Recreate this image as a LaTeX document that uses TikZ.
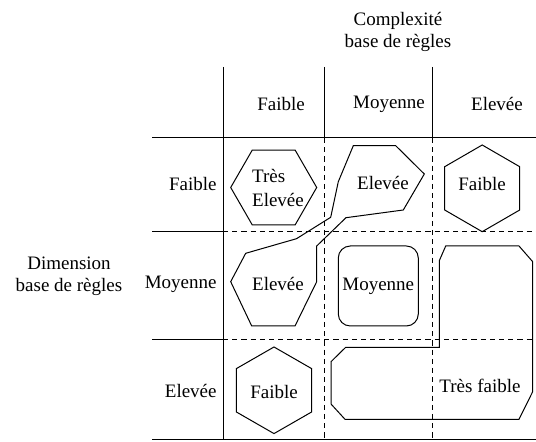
\documentclass[tikz,border=0pt]{standalone}
\usepackage{fontspec}
\setmainfont{Liberation Serif}
\usetikzlibrary{shapes.geometric}
\tikzstyle{solidline} = [line width=0.5pt, draw=black]
\tikzstyle{dashline} = [line width=0.5pt, draw=black, dash pattern=on 2.6pt off 2pt]
\tikzstyle{zone} = [line width=0.5pt, draw=black, line join=miter]
\tikzstyle{txt} = [inner sep=0pt, align=center, font=\fontsize{9.5}{11}\selectfont]
\tikzstyle{cellbox} = [rectangle, rounded corners=6pt, inner sep=1pt, minimum width=40pt, minimum height=40pt, text centered, draw=black, line width=0.5pt, font=\fontsize{9.5}{11}\selectfont]

\begin{document}
\begin{tikzpicture}[x=0.5pt, y=-0.5pt]
	\useasboundingbox (0,0) rectangle (536,442);

		% Draw the table
		\draw [solidline] (152,138) -- (536,138);
		\draw [solidline] (152,232) -- (223,232);
		\draw [dashline] (223,232) -- (536,232);
		\draw [solidline] (152,340) -- (223,340);
		\draw [dashline] (223,340) -- (536,340);
		\draw [solidline] (152,440) -- (536,440);
		\draw [solidline] (223,67) -- (223,440);
		\draw [solidline] (324,67) -- (324,138);
		\draw [dashline] (324,138) -- (324,440);
		\draw [solidline] (432,67) -- (432,138);
		\draw [dashline] (432,138) -- (432,440);

		% Draw the headers
		\node (cplx) [txt] at (398,32) {Complexité\\base de règles};
		\node (dim) [txt] at (69,276) {Dimension\\base de règles};
		\node (colfaible) [txt] at (281,104) {Faible};
		\node (colmoy) [txt] at (389,104) {Moyenne};
		\node (colelev) [txt] at (497,104) {Elevée};
		\node (rowfaible) [txt, anchor=east] at (217,184) {Faible};
		\node (rowmoy) [txt, anchor=east] at (217,284) {Moyenne};
		\node (rowelev) [txt, anchor=east] at (217,391) {Elevée};

		% Draw the zones
		\draw [zone] (230.7,187.5) -- (252.2,150.2) -- (295.2,150.2) -- (316.7,187.5) -- (295.2,224.8) -- (252.2,224.8) -- cycle;
		\draw [zone] (482.2,145) -- (519.7,166.7) -- (519.7,210) -- (482.2,231.7) -- (444.7,210) -- (444.7,166.7) -- cycle;
		\draw [zone] (274,347) -- (311.6,368.6) -- (311.6,412) -- (274,433.6) -- (236.4,412) -- (236.4,368.6) -- cycle;
		\draw [zone] (353.3,145.7) -- (395.7,145.7) -- (424.3,174) -- (403.3,210) -- (346,217.7) -- (316.7,246) -- (316.7,281.7) -- (295,326) -- (251.7,326) -- (230.7,281.7) -- (245.7,253.3) -- (296.5,238.7) -- (330.7,217.3) -- (338.3,181.7) -- cycle;
		\draw [zone] (445.7,246) -- (519,246) -- (532.7,261.7) -- (532.7,391.7) -- (519,419.3) -- (345,419.3) -- (331,404) -- (331,361.7) -- (345.7,347.3) -- (439.3,347.3) -- (439.3,260.7) -- cycle;

		% Draw the zone names
		\node (tresel) [txt, align=left, font=\fontsize{9.5}{12}\selectfont] at (278,188) {Très\\Elevée};
		\node (elevA) [txt] at (383,183) {Elevée};
		\node (faibleA) [txt] at (482,184) {Faible};
		\node (elevB) [txt] at (278,284) {Elevée};
		\node (moy) [cellbox] at (378.3,286) {Moyenne};
		\node (faibleB) [txt] at (274,392) {Faible};
		\node (tresf) [txt] at (480,386) {Très faible};

\end{tikzpicture}
\end{document}
